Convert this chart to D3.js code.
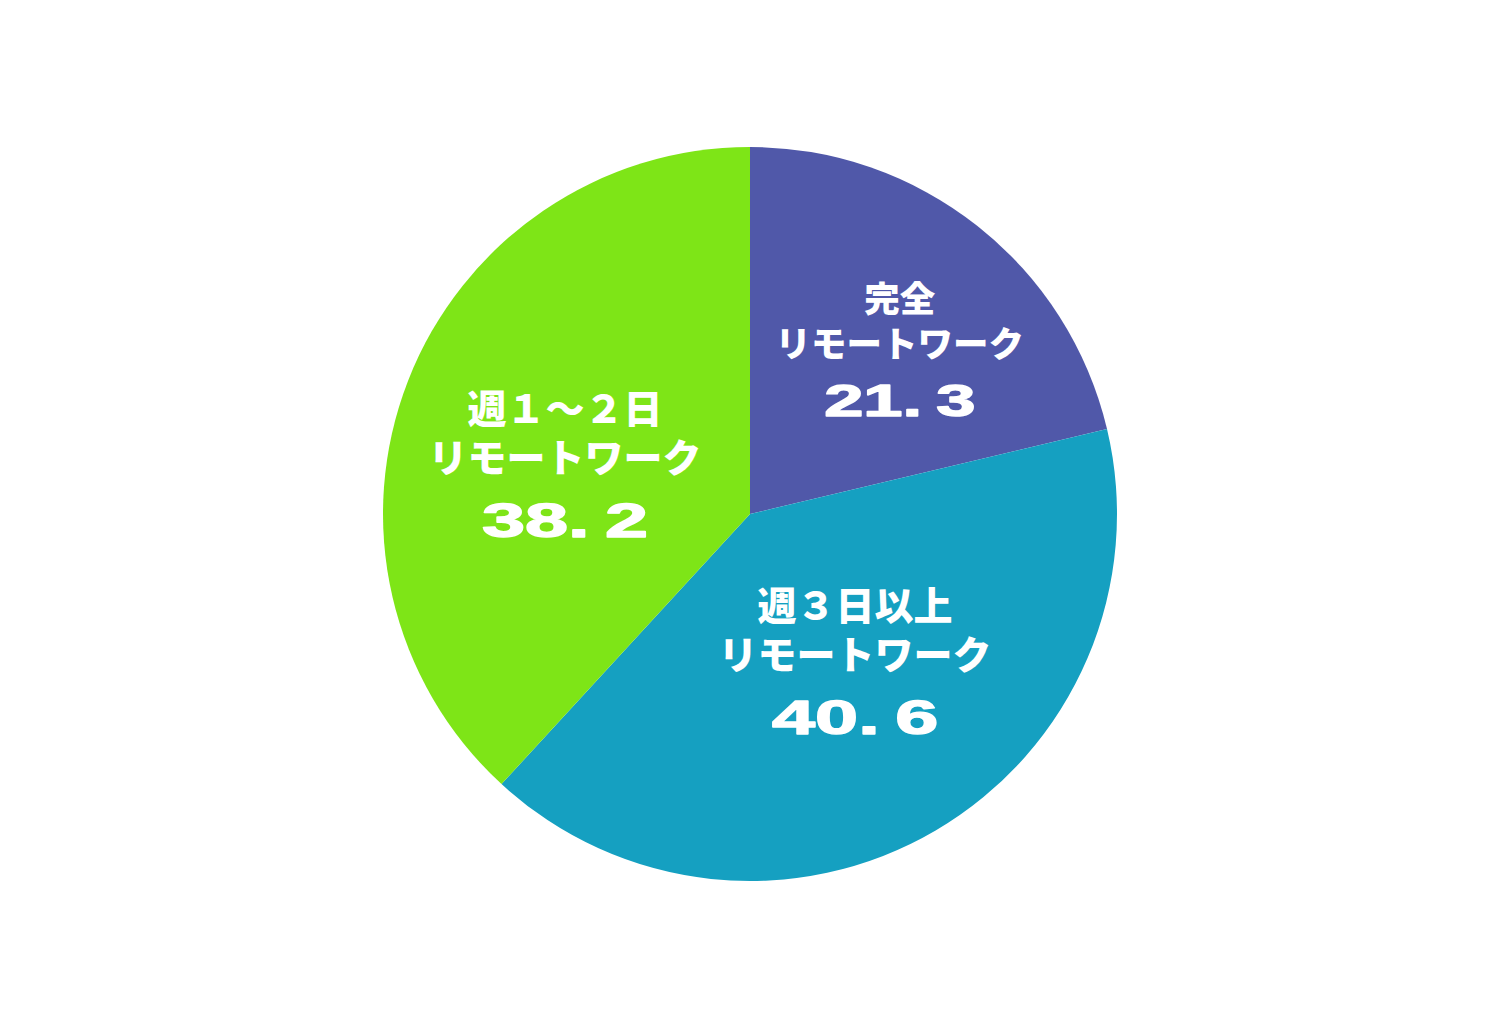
<!DOCTYPE html>
<html><head><meta charset="utf-8">
<script src="https://cdn.jsdelivr.net/npm/d3@7"></script>
<style>
html,body{margin:0;padding:0;background:#fff;}
svg{display:block;}
</style></head>
<body>
<svg id="chart" width="1500" height="1029"></svg>
<script>
// ---- data ----
const categories = ["完全", "週３日以上", "週１～２日"];
const subLabels = ["リモートワーク", "リモートワーク", "リモートワーク"];
const values = [21.3, 40.6, 38.2];
const colors = ["#5058a9", "#15a0c1", "#7ee517"];

// ---- layout (not data) ----
const cx = 750, cy = 514, R = 367;
const labelRadius = 190;
const labelNudge = [[32, -21], [9, -23], [-8, 13]];
const labelScale = [0.91, 1, 1];

const svg = d3.select("#chart");
const g = svg.append("g").attr("transform", `translate(${cx},${cy})`);

const pie = d3.pie().sort(null).value(d => d.value);
const data = categories.map((c, i) => ({cat: c, sub: subLabels[i], value: values[i], color: colors[i], i}));
const arcs = pie(data);

const arc = d3.arc().innerRadius(0).outerRadius(R);
const labelArc = d3.arc().innerRadius(labelRadius).outerRadius(labelRadius);

g.selectAll("path.slice").data(arcs).join("path")
  .attr("class", "slice")
  .attr("d", arc)
  .attr("fill", d => d.data.color);

const fmt = d3.format(".1f");
const jpFont = "'Noto Sans CJK JP', 'Noto Sans CJK SC', sans-serif";
const numFont = "'Liberation Sans', Arial, sans-serif";

arcs.forEach(a => {
  const i = a.data.i;
  const [x0, y0] = labelArc.centroid(a);
  const x = x0 + labelNudge[i][0], y = y0 + labelNudge[i][1];
  const s = labelScale[i];
  const jfs = 39 * s;
  const nfs = 49 * s;
  const lg = g.append("g").attr("transform", `translate(${x},${y})`);
  const t = lg.append("text")
    .attr("text-anchor", "middle")
    .attr("font-family", jpFont).attr("font-weight", 900)
    .attr("font-size", jfs).attr("fill", "#fff");
  t.append("tspan").attr("x", 0).attr("y", -49 * s + 0.36 * jfs).text(a.data.cat);
  t.append("tspan").attr("x", 0).attr("y", 0.36 * jfs).text(a.data.sub);
  // value
  lg.append("text")
    .attr("transform", `translate(0,${62 * s + 0.358 * nfs}) scale(1.58,1)`)
    .attr("text-anchor", "middle")
    .attr("font-family", numFont).attr("font-weight", 700)
    .attr("font-size", nfs).attr("fill", "#fff")
    .attr("stroke", "#fff").attr("stroke-width", 1.4).attr("stroke-linejoin", "round")
    .text(fmt(a.data.value).replace(".", ".\u2009"));
});
</script>
</body></html>
